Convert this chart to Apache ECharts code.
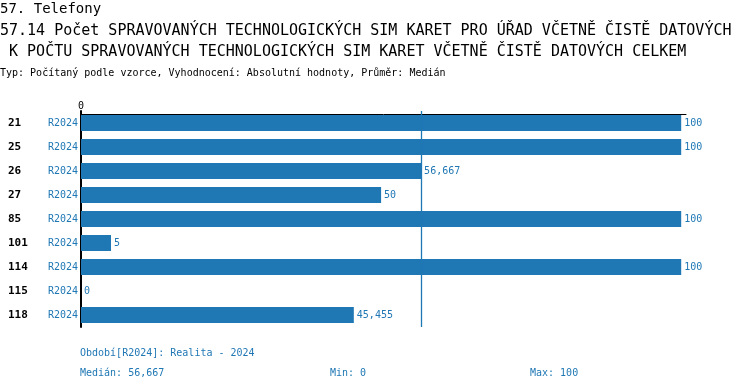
<!DOCTYPE html>
<html><head><meta charset="utf-8">
<script src="https://cdn.jsdelivr.net/npm/echarts@6/dist/echarts.min.js"></script>
<style>html,body{margin:0;padding:0;background:#fff}#c{width:750px;height:390px}</style>
</head><body><div id="c"></div>
<script>
const categories = ['21','25','26','27','85','101','114','115','118'];
const periodLabel = 'R2024';
const values = [100,100,56.667,50,100,5,100,0,45.455];
const median = 56.667;
const minVal = 0;
const maxVal = 100;
const xTicks = [0];

const MONO = '"DejaVu Sans Mono", monospace';
const BLUE = '#1f77b4';
const fmt = v => String(v).replace('.', ',');

const chart = echarts.init(document.getElementById('c'), null, {renderer:'canvas'});
chart.setOption({
  animation:false,
  textStyle:{fontFamily:MONO},
  grid:{left:81, right:64, top:111, height:216, containLabel:false},
  xAxis:{type:'value', position:'top', min:0, max:100.8, offset:-3,
    splitLine:{show:false}, axisTick:{show:false},
    axisLine:{show:true, lineStyle:{color:'#000', width:1}},
    axisLabel:{fontFamily:MONO, fontSize:10, color:'#000', margin:3,
      formatter:v => xTicks.includes(v) ? String(v) : ''}},
  yAxis:{type:'category', data:categories, inverse:true,
    axisTick:{show:false},
    axisLine:{show:true, lineStyle:{color:'#000', width:2}},
    axisLabel:{margin:3, fontFamily:MONO,
      formatter:v => '{a|'+v+'}{b|'+periodLabel+'}',
      rich:{a:{width:40, align:'left', fontFamily:MONO, fontWeight:'bold', fontSize:11, color:'#000'},
            b:{width:30, align:'right', fontFamily:MONO, fontSize:10, color:BLUE}}}},
  series:[{type:'bar', data:values, barWidth:16, itemStyle:{color:BLUE},
    label:{show:true, position:'right', distance:3, fontFamily:MONO, fontSize:10, color:BLUE,
      formatter:p => fmt(p.value)},
    markLine:{silent:true, symbol:'none', label:{show:false}, z:10,
      lineStyle:{color:BLUE, width:1.3, type:'solid', opacity:1},
      emphasis:{disabled:true},
      data:[{xAxis:median}]}}],
  graphic:[
    {type:'text', left:0, top:2, style:{text:'57. Telefony', font:'14px '+MONO, fill:'#000'}},
    {type:'text', left:0, top:24, style:{text:'57.14 Počet SPRAVOVANÝCH TECHNOLOGICKÝCH SIM KARET PRO ÚŘAD VČETNĚ ČISTĚ DATOVÝCH', font:'15px '+MONO, fill:'#000'}},
    {type:'text', left:0, top:45, style:{text:' K POČTU SPRAVOVANÝCH TECHNOLOGICKÝCH SIM KARET VČETNĚ ČISTĚ DATOVÝCH CELKEM', font:'15px '+MONO, fill:'#000'}},
    {type:'text', left:0, top:68, style:{text:'Typ: Počítaný podle vzorce, Vyhodnocení: Absolutní hodnoty, Průměr: Medián', font:'10px '+MONO, fill:'#000'}},
    {type:'text', left:80, top:348, style:{text:'Období['+periodLabel+']: Realita - 2024', font:'10px '+MONO, fill:BLUE}},
    {type:'text', left:80, top:368, style:{text:'Medián: '+fmt(median), font:'10px '+MONO, fill:BLUE}},
    {type:'text', left:330, top:368, style:{text:'Min: '+fmt(minVal), font:'10px '+MONO, fill:BLUE}},
    {type:'text', left:530, top:368, style:{text:'Max: '+fmt(maxVal), font:'10px '+MONO, fill:BLUE}}
  ]
});
</script></body></html>
